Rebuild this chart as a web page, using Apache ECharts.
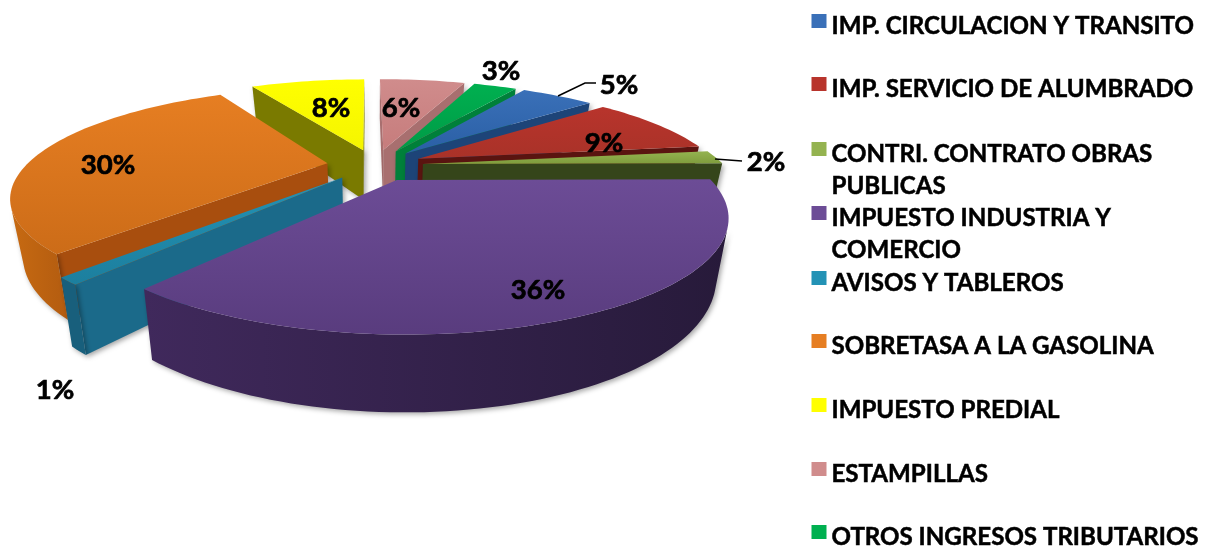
<!DOCTYPE html>
<html><head><meta charset="utf-8">
<style>html,body{margin:0;padding:0;background:#fff}#c{width:1210px;height:550px}</style>
<script src="https://cdn.jsdelivr.net/npm/echarts@6/dist/echarts.min.js"></script>
</head><body><div id="c"></div>
<script>
const categories = ['IMP. CIRCULACION Y TRANSITO','IMP. SERVICIO DE ALUMBRADO','CONTRI. CONTRATO OBRAS\nPUBLICAS','IMPUESTO INDUSTRIA Y\nCOMERCIO','AVISOS Y TABLEROS','SOBRETASA A LA GASOLINA','IMPUESTO PREDIAL','ESTAMPILLAS','OTROS INGRESOS TRIBUTARIOS'];
const values = [5,9,2,36,1,30,8,6,3];
const topColors = [['#3a70b8','#2a5fa5'],['#b8342c','#a93228'],['#94b350','#7f9c3c'],['#6c4c96','#593c7e'],['#2392b5','#1c7f9e'],['#e67e22','#cc6c18'],['#ffff00','#f5f500'],['#d08c8c','#c67c7c'],['#00b050','#009a46']];
const radialWalls = ['#1d4478','#5a1410','#35451a','#3a2658','#1b6a8a','#a84e0e','#7a7a00','#a86f6f','#00803a'];
const rimWalls = [['#1d4478','#1d4478'],['#5a1410','#5a1410'],['#2f3e14','#2f3e14'],['#40295c','#271a3a'],['#185f7c','#185f7c'],['#c76a12','#b35c10'],['#707000','#707000'],['#a06868','#a06868'],['#00803a','#00803a']];
const legendTop = [10,73,138,202,267,330,394,458,521];
const drawOrder = [7,6,8,0,1,2,5,4,3];
const labelPos = [[619,85],[604,143],[766,162],[538,290],[55,390],[108,165],[331,108],[401,108],[501,71]];
const leaderLines = {0:[[558,96],[585,83],[596,83]],2:[[715,159],[742,161]]};

const geo = {cx:375,cy:165,rx:301,ry:99,k:0.29,h:52,v:0.035,explode:0.16,firstSliceAngle:32,step:1.5};
const total = values.reduce((a,b)=>a+b,0);
function proj(X,Y,Z){const w=1/(1-geo.k*Y);return [geo.cx+geo.rx*X*w*(1-geo.v*Z), geo.cy+geo.ry*Y*w+geo.h*Z*w];}
function area(q){let s=0;for(let i=0;i<q.length;i++){const a=q[i],b=q[(i+1)%q.length];s+=a[0]*b[1]-b[0]*a[1];}return s;}
const grad=(c,horizontal)=>({type:'linear',x:0,y:0,x2:horizontal?1:0,y2:horizontal?0:1,colorStops:[{offset:0,color:c[0]},{offset:1,color:c[1]}]});
const shadow={shadowColor:'rgba(0,0,0,0.35)',shadowBlur:5,shadowOffsetX:2,shadowOffsetY:2};

function sliceShape(i){
  let acc=0;for(let j=0;j<i;j++)acc+=values[j];
  const a0=geo.firstSliceAngle+acc/total*360,a1=a0+values[i]/total*360;
  const mid=(a0+a1)/2*Math.PI/180;
  const ox=Math.sin(mid)*geo.explode,oy=-Math.cos(mid)*geo.explode;
  const n=Math.max(2,Math.ceil((a1-a0)/geo.step));
  const ring=[[ox,oy]];
  for(let s=0;s<=n;s++){const t=(a0+(a1-a0)*s/n)*Math.PI/180;ring.push([ox+Math.sin(t),oy-Math.cos(t)]);}
  return ring;
}
function wallQuad(a,b){return [proj(a[0],a[1],0),proj(b[0],b[1],0),proj(b[0],b[1],1),proj(a[0],a[1],1)];}
function renderSlice(i){
  const ring=sliceShape(i),children=[],last=ring.length-1;
  [[ring[0],ring[1]],[ring[last],ring[0]]].forEach(e=>{
    const q=wallQuad(e[0],e[1]);
    if(area(q)<0)children.push({type:'polygon',shape:{points:q},style:Object.assign({fill:radialWalls[i]},shadow)});
  });
  let run=[];
  const flush=()=>{
    if(run.length>1){
      const pts=run.map(p=>proj(p[0],p[1],0)).concat(run.slice().reverse().map(p=>proj(p[0],p[1],1)));
      children.push({type:'polygon',shape:{points:pts},style:Object.assign({fill:grad(rimWalls[i],true)},shadow)});
    }
    run=[];
  };
  for(let s=1;s<last;s++){
    if(area(wallQuad(ring[s],ring[s+1]))<0){ if(!run.length)run.push(ring[s]); run.push(ring[s+1]); }
    else flush();
  }
  flush();
  children.push({type:'polygon',shape:{points:ring.map(p=>proj(p[0],p[1],0))},style:{fill:grad(topColors[i])}});
  return {type:'group',children};
}
const sliceSeries=drawOrder.map((i,o)=>({
  type:'custom',name:categories[i],coordinateSystem:'none',silent:true,animation:false,z:2+o,
  itemStyle:{color:topColors[i][0]},data:[[values[i]]],renderItem:()=>renderSlice(i)
}));
const labelSeries={type:'custom',name:'labels',coordinateSystem:'none',silent:true,animation:false,z:20,data:[[0]],
  renderItem:()=>{
    const children=[];
    Object.keys(leaderLines).forEach(k=>children.push({type:'polyline',shape:{points:leaderLines[k]},style:{stroke:'#000',lineWidth:1.5,fill:null}}));
    values.forEach((v,i)=>children.push({type:'text',style:{text:v+'%',x:labelPos[i][0],y:labelPos[i][1],align:'center',verticalAlign:'middle',fill:'#000',stroke:'#000',lineWidth:0.7,font:'700 27.5px Lato'}}));
    return {type:'group',children};
  }};
const legends=categories.map((name,i)=>{
  const two=name.indexOf('\n')>=0;
  return {data:[{name,icon:two?'path://M0 0H15V14H0Z M0 56L0.01 56Z':'path://M0 0H15V14H0Z M0 24L0.01 24Z'}],
    left:811.5,top:legendTop[i],orient:'vertical',padding:0,selectedMode:false,
    itemWidth:15,itemHeight:two?56:24,itemGap:0,
    textStyle:{fontFamily:'Lato',fontWeight:700,fontSize:24.1,color:'#000',lineHeight:32,textBorderColor:'#000',textBorderWidth:0.5}};
});
const chart=echarts.init(document.getElementById('c'),null,{renderer:'canvas'});
chart.setOption({animation:false,backgroundColor:'#fff',legend:legends,series:[...sliceSeries,labelSeries]});
</script></body></html>
